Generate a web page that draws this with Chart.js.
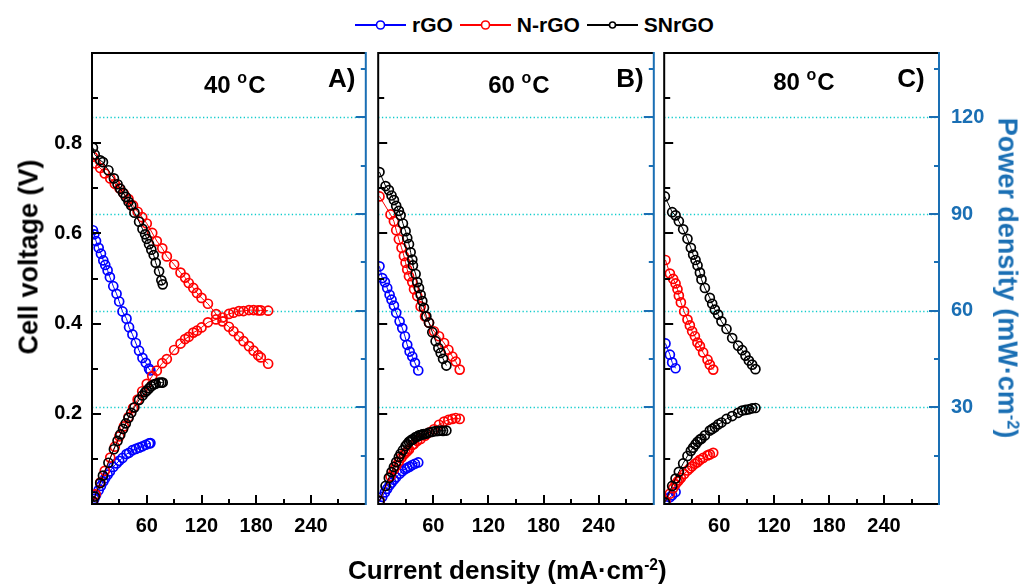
<!DOCTYPE html>
<html lang="en">
<head>
<meta charset="UTF-8">
<title>Polarization and power density curves</title>
<script src="https://cdn.jsdelivr.net/npm/chart.js"></script>
<style>
  body { margin: 0; width: 1021px; height: 584px; position: relative; overflow: hidden; background: #fff;
         font-family: 'Liberation Sans', Arial, Helvetica, sans-serif; font-weight: bold; }
  canvas { position: absolute; top: 0; }
  .txt { position: absolute; white-space: nowrap; line-height: 1; }
  .txt sup { font-size: 0.6em; vertical-align: 0.55em; line-height: 0; }
  #legend { position: absolute; left: 355px; top: 13px; display: flex; align-items: center; font-size: 21px; }
  #legend .item { display: flex; align-items: center; margin-right: 7px; }
  #legend svg { margin-right: 6px; }
  #ytitle { left: 29px; top: 257px; font-size: 27px; transform: translate(-50%, -50%) rotate(-90deg); }
  #y2title { left: 1007px; top: 278px; font-size: 27px; color: #1a6fb4; transform: translate(-50%, -50%) rotate(90deg); }
  #xtitle { left: 348px; top: 557px; font-size: 26px; }
</style>
</head>
<body>
<div id="legend"></div>
<canvas id="panel0" width="372" height="584" style="left:0px"></canvas>
<canvas id="panel1" width="288" height="584" style="left:372px"></canvas>
<canvas id="panel2" width="363" height="584" style="left:658px"></canvas>
<div class="txt" id="ytitle">Cell voltage (V)</div>
<div class="txt" id="y2title">Power density (mW·cm<sup>-2</sup>)</div>
<div class="txt" id="xtitle">Current density (mA·cm<sup>-2</sup>)</div>

<script>
// ---- data ----
const seriesNames = ['rGO', 'N-rGO', 'SNrGO'];
const temperatures = ['40', '60', '80'];
const panelTags = ['A)', 'B)', 'C)'];
const currentTicks = [60, 120, 180, 240];
const voltageTicks = [0.2, 0.4, 0.6, 0.8];
const powerTicks = [30, 60, 90, 120];

// 40 C
const rgoCurrent40 = [1, 2.5, 4.4, 7.3, 9.8, 12.4, 14.5, 17.1, 19.6, 23.3, 26.9, 29.8, 33.4, 37.8, 40.6, 44.3, 48, 51.6, 55.3, 58.9, 62.5, 64];
const rgoVoltage40 = [0.607, 0.598, 0.583, 0.568, 0.555, 0.540, 0.530, 0.518, 0.503, 0.483, 0.466, 0.449, 0.427, 0.411, 0.392, 0.376, 0.357, 0.340, 0.324, 0.313, 0.300, 0.296];
const rgoPower40 = [0.6, 1.6, 2.7, 4.3, 5.6, 7.0, 8.0, 9.1, 10.1, 11.5, 12.6, 13.4, 14.3, 15.5, 15.9, 16.7, 17.1, 17.5, 17.9, 18.4, 18.8, 18.9];

const nrgoCurrent40 = [1, 4, 9, 14, 20, 25, 30, 35, 40, 45, 50, 55, 60, 66, 71, 77, 82, 90, 97, 102, 106, 111, 115, 120, 127, 136, 143, 150, 155, 161, 166, 172, 177, 182, 185, 193];
const nrgoVoltage40 = [0.770, 0.755, 0.745, 0.733, 0.722, 0.710, 0.700, 0.688, 0.676, 0.662, 0.648, 0.636, 0.622, 0.601, 0.583, 0.567, 0.549, 0.531, 0.513, 0.502, 0.490, 0.479, 0.468, 0.457, 0.444, 0.421, 0.405, 0.393, 0.383, 0.372, 0.361, 0.350, 0.340, 0.330, 0.325, 0.311];
const nrgoPower40 = [0.8, 3.0, 6.7, 10.3, 14.4, 17.8, 21.0, 24.1, 27.0, 29.8, 32.4, 35.0, 37.3, 39.7, 41.4, 43.7, 45.0, 47.8, 49.8, 51.2, 51.9, 53.2, 53.8, 54.8, 56.4, 57.3, 57.9, 59.0, 59.4, 59.9, 59.9, 60.2, 60.2, 60.1, 60.1, 60.0];

const snrgoCurrent40 = [1, 3, 9, 12, 18, 24, 28, 31, 34, 37, 40, 43, 46.5, 51.6, 55.3, 58.2, 60, 62.5, 65, 67.6, 69.8, 73.5, 76, 77.5];
const snrgoVoltage40 = [0.790, 0.775, 0.762, 0.758, 0.740, 0.722, 0.709, 0.699, 0.690, 0.681, 0.670, 0.662, 0.646, 0.626, 0.610, 0.598, 0.588, 0.576, 0.564, 0.552, 0.535, 0.516, 0.496, 0.487];
const snrgoPower40 = [0.8, 2.3, 6.5, 8.8, 12.8, 17.0, 19.6, 21.6, 23.3, 25.0, 26.7, 28.3, 30.0, 32.3, 33.7, 34.7, 35.2, 35.9, 36.6, 37.1, 37.3, 37.7, 37.7, 37.7];

// 60 C
const rgoCurrent60 = [1.4, 4.4, 7.3, 9.8, 12.4, 14.5, 17.1, 19.6, 23.3, 26.2, 29.1, 31.6, 34.2, 37.1, 40, 43.6];
const rgoVoltage60 = [0.527, 0.501, 0.492, 0.479, 0.464, 0.453, 0.440, 0.424, 0.405, 0.390, 0.372, 0.353, 0.338, 0.327, 0.313, 0.296];
const rgoPower60 = [0.7, 2.2, 3.6, 4.7, 5.8, 6.6, 7.5, 8.3, 9.4, 10.2, 10.8, 11.2, 11.6, 12.1, 12.5, 12.9];

const nrgoCurrent60 = [1.4, 13.4, 17.1, 19.6, 22.5, 25.4, 28, 29.8, 31.6, 33.5, 37.1, 39, 42.5, 46.2, 51, 55.3, 60.7, 66.2, 71.7, 76.4, 80.7, 84.4, 88.7];
const nrgoVoltage60 = [0.682, 0.642, 0.627, 0.607, 0.587, 0.568, 0.550, 0.535, 0.520, 0.505, 0.492, 0.476, 0.461, 0.438, 0.416, 0.402, 0.383, 0.372, 0.357, 0.342, 0.327, 0.316, 0.298];
const nrgoPower60 = [1.0, 8.6, 10.7, 11.9, 13.2, 14.4, 15.4, 15.9, 16.4, 16.9, 18.3, 18.6, 19.6, 20.2, 21.2, 22.2, 23.2, 24.6, 25.6, 26.1, 26.4, 26.7, 26.4];

const snrgoCurrent60 = [1.4, 8, 11.6, 14.5, 17.1, 19.6, 22.5, 24.4, 26.9, 29.8, 31.6, 33.5, 35.3, 37.1, 37.8, 40.7, 42.5, 44.4, 46.2, 48, 49.8, 52.4, 55.3, 58.9, 62.5, 65.5, 68, 70.6, 74.2];
const snrgoVoltage60 = [0.736, 0.705, 0.696, 0.684, 0.674, 0.661, 0.650, 0.640, 0.622, 0.605, 0.590, 0.576, 0.558, 0.542, 0.529, 0.510, 0.492, 0.479, 0.464, 0.450, 0.435, 0.416, 0.402, 0.381, 0.361, 0.346, 0.335, 0.322, 0.307];
const snrgoPower60 = [1.0, 5.6, 8.1, 9.9, 11.5, 13.0, 14.6, 15.6, 16.7, 18.0, 18.6, 19.3, 19.7, 20.1, 20.0, 20.8, 20.9, 21.3, 21.4, 21.6, 21.7, 21.8, 22.2, 22.4, 22.6, 22.7, 22.8, 22.7, 22.8];

// 80 C
const rgoCurrent80 = [1.4, 6.2, 8.7, 12.4];
const rgoVoltage80 = [0.356, 0.331, 0.314, 0.301];
const rgoPower80 = [0.5, 2.1, 2.7, 3.7];

const nrgoCurrent80 = [1.4, 6.2, 9.8, 12.4, 14.5, 16, 18.2, 21.8, 25.4, 28, 30.5, 33.5, 36.3, 39, 42.5, 47.3, 49.8, 53.5];
const nrgoVoltage80 = [0.541, 0.511, 0.499, 0.489, 0.476, 0.462, 0.447, 0.427, 0.409, 0.396, 0.383, 0.372, 0.358, 0.350, 0.336, 0.320, 0.309, 0.298];
const nrgoPower80 = [0.8, 3.2, 4.9, 6.1, 6.9, 7.4, 8.1, 9.3, 10.4, 11.1, 11.7, 12.5, 13.0, 13.7, 14.3, 15.1, 15.4, 15.9];

const snrgoCurrent80 = [0.7, 8.7, 12.4, 16, 20.7, 25.4, 29.1, 31.6, 34.2, 36.4, 39, 40.7, 44.4, 49.8, 52.4, 55.3, 58.9, 62.5, 68, 74.2, 80.7, 85.1, 88.7, 92.4, 96, 99.6];
const snrgoVoltage80 = [0.682, 0.647, 0.640, 0.627, 0.609, 0.588, 0.568, 0.553, 0.541, 0.529, 0.513, 0.498, 0.479, 0.457, 0.444, 0.431, 0.420, 0.405, 0.388, 0.368, 0.351, 0.341, 0.329, 0.318, 0.309, 0.299];
const snrgoPower80 = [0.5, 5.6, 7.9, 10.0, 12.6, 14.9, 16.5, 17.5, 18.5, 19.3, 20.0, 20.3, 21.3, 22.8, 23.3, 23.8, 24.7, 25.3, 26.4, 27.3, 28.3, 29.0, 29.2, 29.4, 29.7, 29.8];

// ---- styling / layout ----
const fontFamily = "'Liberation Sans', Arial, Helvetica, sans-serif";
const axisBlue = '#1a6fb4';
const gridCyan = '#10cccc';
const seriesColors = ['#0000ff', '#ff0000', '#000000'];

const panelData = [
  [[rgoCurrent40, rgoVoltage40, rgoPower40], [nrgoCurrent40, nrgoVoltage40, nrgoPower40], [snrgoCurrent40, snrgoVoltage40, snrgoPower40]],
  [[rgoCurrent60, rgoVoltage60, rgoPower60], [nrgoCurrent60, nrgoVoltage60, nrgoPower60], [snrgoCurrent60, snrgoVoltage60, snrgoPower60]],
  [[rgoCurrent80, rgoVoltage80, rgoPower80], [nrgoCurrent80, nrgoVoltage80, nrgoPower80], [snrgoCurrent80, snrgoVoltage80, snrgoPower80]]
];

const panelLayout = [
  { padL: 0, padR: 5, yW: 92, y2W: 0, tempX: 112, tempY: 93, tagX: 236 },
  { padL: 6, padR: 6, yW: 0, y2W: 0, tempX: 110, tempY: 93, tagX: 238 },
  { padL: 6, padR: 0, yW: 0, y2W: 82, tempX: 109, tempY: 90, tagX: 233 }
];

function zip(xs, ys) {
  return xs.map((v, i) => ({ x: v, y: ys[i] }));
}

// legend (html)
const legendBox = document.getElementById('legend');
seriesNames.forEach((name, i) => {
  const c = seriesColors[i];
  const item = document.createElement('span');
  item.className = 'item';
  item.innerHTML = `<svg width="51" height="14"><line x1="0" y1="7" x2="51" y2="7" stroke="${c}" stroke-width="2"/>` +
    `<circle cx="25.5" cy="7" r="${i === 2 ? 3 : 4}" fill="#fff" stroke="${c}" stroke-width="1.6"/></svg><span>${name}</span>`;
  legendBox.appendChild(item);
});

// frame, inward ticks, dotted power grid and panel labels
const framePlugin = {
  id: 'frame',
  beforeDatasetsDraw(chart) {
    const { ctx, chartArea: a, scales: { y2 } } = chart;
    ctx.save();
    ctx.strokeStyle = gridCyan;
    ctx.lineWidth = 1.3;
    ctx.setLineDash([1.3, 2.4]);
    powerTicks.forEach(v => {
      const py = Math.round(y2.getPixelForValue(v)) + 0.5;
      ctx.beginPath();
      ctx.moveTo(a.left, py);
      ctx.lineTo(a.right, py);
      ctx.stroke();
    });
    ctx.restore();
  },
  afterDatasetsDraw(chart, args, opts) {
    const { ctx, chartArea: a, scales: { x, y, y2 } } = chart;
    const idx = opts.panel;
    const lay = panelLayout[idx];
    ctx.save();
    ctx.lineWidth = 2;
    ctx.strokeStyle = '#000';
    ctx.beginPath();
    for (let v = 30; v < 300; v += 30) {
      const px = Math.round(x.getPixelForValue(v));
      ctx.moveTo(px, a.bottom);
      ctx.lineTo(px, a.bottom - (v % 60 === 0 ? 9 : 5));
    }
    for (let k = 1; k <= 9; k++) {
      const py = Math.round(y.getPixelForValue(k / 10));
      ctx.moveTo(a.left, py);
      ctx.lineTo(a.left + (k % 2 === 0 ? 9 : 6), py);
    }
    ctx.moveTo(a.right, a.top);
    ctx.lineTo(a.left, a.top);
    ctx.lineTo(a.left, a.bottom);
    ctx.lineTo(a.right, a.bottom);
    ctx.stroke();

    ctx.strokeStyle = axisBlue;
    ctx.beginPath();
    ctx.moveTo(a.right, a.top - 1);
    ctx.lineTo(a.right, a.bottom + 1);
    for (let v = 15; v < 140; v += 15) {
      const py = Math.round(y2.getPixelForValue(v));
      ctx.moveTo(a.right, py);
      ctx.lineTo(a.right - (v % 30 === 0 ? 10 : 5), py);
    }
    ctx.stroke();

    // "40 oC" and "A)"
    ctx.fillStyle = '#000';
    ctx.textAlign = 'left';
    ctx.textBaseline = 'alphabetic';
    const x0 = a.left + lay.tempX;
    ctx.font = `bold 24px ${fontFamily}`;
    const head = temperatures[idx] + ' ';
    ctx.fillText(head, x0, lay.tempY);
    let w = ctx.measureText(head).width;
    ctx.font = `bold 16px ${fontFamily}`;
    ctx.fillText('o', x0 + w, lay.tempY - 10);
    w += ctx.measureText('o').width + 1;
    ctx.font = `bold 24px ${fontFamily}`;
    ctx.fillText('C', x0 + w, lay.tempY);
    ctx.font = `bold 26px ${fontFamily}`;
    ctx.fillText(panelTags[idx], a.left + lay.tagX, 86.5);
    ctx.restore();
  }
};

function makePanel(idx) {
  const lay = panelLayout[idx];
  const tickFont = { family: fontFamily, size: 20, weight: 'bold' };
  const datasets = [];
  // SNrGO first so black is drawn on top, then N-rGO, then rGO
  [2, 1, 0].forEach(s => {
    const [cur, volt, pow] = panelData[idx][s];
    const c = seriesColors[s];
    const common = {
      label: seriesNames[s], showLine: true, borderColor: c, borderWidth: 1,
      pointRadius: 4.5, pointBorderWidth: 1.7, pointBorderColor: c,
      pointBackgroundColor: 'rgba(0,0,0,0)', clip: 0
    };
    datasets.push(Object.assign({ data: zip(cur, volt), yAxisID: 'y' }, common));
    datasets.push(Object.assign({ data: zip(cur, pow), yAxisID: 'y2' }, common));
  });

  new Chart(document.getElementById('panel' + idx), {
    type: 'scatter',
    data: { datasets },
    options: {
      responsive: false,
      animation: false,
      events: [],
      layout: { padding: { top: 53, bottom: 0, left: lay.padL, right: lay.padR } },
      plugins: { legend: { display: false }, tooltip: { enabled: false }, frame: { panel: idx } },
      scales: {
        x: {
          type: 'linear', min: 0, max: 300,
          grid: { display: false, drawTicks: false }, border: { display: false },
          afterBuildTicks: s => { s.ticks = currentTicks.map(v => ({ value: v })); },
          afterFit: s => { s.height = 80; },
          ticks: { font: tickFont, color: '#000', padding: 10, maxRotation: 0, autoSkip: false }
        },
        y: {
          type: 'linear', min: 0, max: 1.0, position: 'left', display: lay.yW > 0,
          grid: { display: false, drawTicks: false }, border: { display: false },
          afterBuildTicks: s => { s.ticks = voltageTicks.map(v => ({ value: v })); },
          afterFit: s => { s.width = lay.yW; },
          ticks: { font: tickFont, color: '#000', padding: 10, callback: v => v.toFixed(1) }
        },
        y2: {
          type: 'linear', min: 0, max: 140, position: 'right', display: lay.y2W > 0,
          grid: { display: false, drawTicks: false }, border: { display: false },
          afterBuildTicks: s => { s.ticks = powerTicks.map(v => ({ value: v })); },
          afterFit: s => { s.width = lay.y2W; },
          ticks: { font: tickFont, color: axisBlue, padding: 12 }
        }
      }
    },
    plugins: [framePlugin]
  });
}

[0, 1, 2].forEach(makePanel);
</script>
</body>
</html>
